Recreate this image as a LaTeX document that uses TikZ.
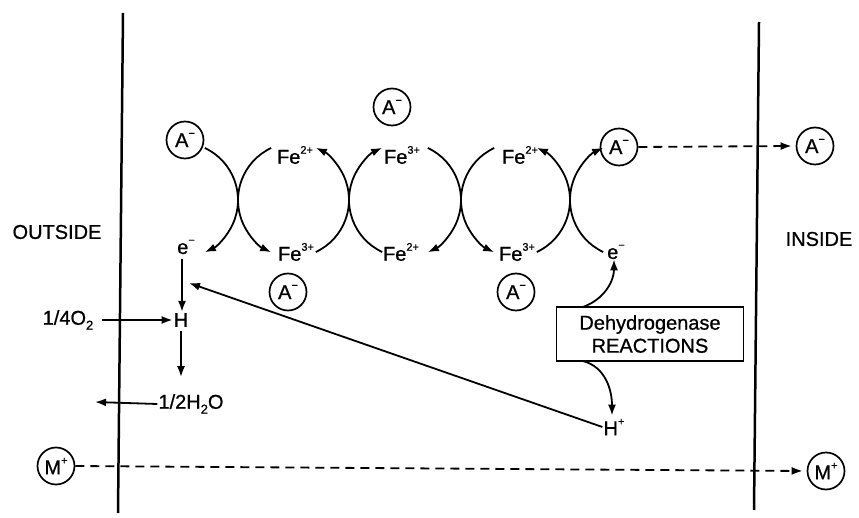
\documentclass[tikz,border=0pt]{standalone}
\usepackage{fontspec}
\setmainfont{Liberation Sans}
\usetikzlibrary{arrows.meta}
\newcommand\sups[1]{\raisebox{0.5em}{\fontsize{11}{11}\selectfont #1}}
\newcommand\subs[1]{\raisebox{-0.25em}{\fontsize{13}{13}\selectfont #1}}
\begin{document}
\begin{tikzpicture}[x=1pt,y=1pt,
  font=\fontsize{20}{23}\selectfont\addfontfeature{FakeBold=0.8},
  ion/.style={circle,draw,line width=1.7pt,minimum size=37pt,inner sep=0pt},
  lab/.style={inner sep=1pt},
  arr/.style={line width=1.8pt,-{Latex[length=11pt,width=8pt]}},
  dasharr/.style={line width=1.8pt,dash pattern=on 9pt off 6pt,-{Latex[length=11pt,width=8pt]}},
  membrane/.style={line width=2.5pt},
  boxed/.style={draw,line width=1.7pt,minimum width=187pt,minimum height=54pt,align=center,inner sep=2pt}
]
\useasboundingbox (0,0) rectangle (859,517);
\fill[white] (0,0) rectangle (859,517);

% membranes
\coordinate (mlt) at (123,504);
\coordinate (mlb) at (118,4);
\coordinate (mrt) at (759,495);
\coordinate (mrb) at (754,7);
\draw[membrane] (mlt) -- (mlb);
\draw[membrane] (mrt) -- (mrb);

\node[lab] (outside) at (57,285) {OUTSIDE};
\node[lab] (inside) at (819,278) {INSIDE};

% anions
\node[ion] (aTop) at (392,410) {A\sups{−}};
\node[ion] (aL) at (185,377) {A\sups{−}};
\node[ion] (aR) at (619,370) {A\sups{−}};
\node[ion] (aFar) at (815,371) {A\sups{−}};
\node[ion] (aB1) at (288,225) {A\sups{−}};
\node[ion] (aB2) at (516,225) {A\sups{−}};
\node[ion] (mL) at (56,51) {M\sups{+}};
\node[ion] (mR) at (826,46) {M\sups{+}};

% iron labels
\node[lab] (fe1) at (295,362) {Fe\sups{2+}};
\node[lab] (fe2) at (402,362) {Fe\sups{3+}};
\node[lab] (fe3) at (520,362) {Fe\sups{2+}};
\node[lab] (fe4) at (296,265) {Fe\sups{3+}};
\node[lab] (fe5) at (401,265) {Fe\sups{2+}};
\node[lab] (fe6) at (517,265) {Fe\sups{3+}};
\node[lab] (eL) at (186,270) {e\sups{−}};
\node[lab] (eR) at (616,265) {e\sups{−}};

% crossings
\coordinate (c1) at (238,317);
\coordinate (c2) at (349,317);
\coordinate (c3) at (461,317);
\coordinate (c4) at (570,317);
% arrows pointing down
\foreach \c in {c1,c3}{
  \draw[arr] ([shift={(-33.2,52)}]\c) arc[start angle=65,end angle=-65,radius=57.5];
  \draw[arr] ([shift={(33.2,52)}]\c) arc[start angle=115,end angle=245,radius=57.5];
}
% arrows pointing up
\foreach \c in {c2,c4}{
  \draw[arr] ([shift={(-33.2,-52)}]\c) arc[start angle=-65,end angle=65,radius=57.5];
  \draw[arr] ([shift={(33.2,-52)}]\c) arc[start angle=245,end angle=115,radius=57.5];
}

% left chain
\node[lab] (h) at (181,197) {H};
\node[lab] (o2) at (68,197) {1/4O\subs{2}};
\node[lab] (h2o) at (191,113) {1/2H\subs{2}O};
\coordinate (wout) at (95,115);
\draw[arr] (182,258) -- (h.north -| 182,0);
\draw[arr] (o2.east) ++(8,0) -- (h.west);
\draw[arr] (h.south) ++(0,-3) -- ++(0,-46);
\draw[arr] (h2o.west) -- (wout);

% dehydrogenase
\node[boxed] (box) at (650,183) {Dehydrogenase\\REACTIONS};
\node[lab] (hp) at (614,90) {H\sups{+}};
\coordinate (hin) at (189,234);
\draw[arr] (hp.west) -- (hin);
\coordinate (bt) at (583,210);
\coordinate (bb) at (583,156);
\draw[arr] (bt) to[out=20,in=-90] ([xshift=-2pt,yshift=1pt]eR.south);
\draw[arr] (bb) to[out=-15,in=90] ([xshift=-2pt,yshift=2pt]hp.north);

% transport
\draw[dasharr] (aR.east) -- ([xshift=-4pt]aFar.west);
\draw[dasharr] (mL.east) -- ([xshift=-4pt]mR.west);
\end{tikzpicture}
\end{document}
